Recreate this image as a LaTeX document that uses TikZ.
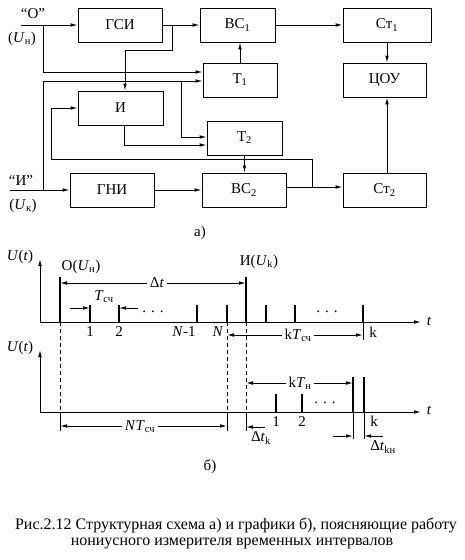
\documentclass[tikz,border=0pt]{standalone}
\usepackage{fontspec}
\setmainfont{Liberation Serif}
\usetikzlibrary{arrows.meta,calc}
\begin{document}
\begin{tikzpicture}[x=1pt,y=-1pt,
  every node/.style={font=\fontsize{15}{18}\selectfont, inner sep=0pt},
  blk/.style={draw, line width=0.9pt, inner sep=0pt, minimum height=34pt},
  ln/.style={line width=0.9pt},
  arr/.style={ln, -{Latex[length=7pt,width=3.6pt]}},
  dimarr/.style={ln, {Latex[length=7pt,width=3.6pt]}-{Latex[length=7pt,width=3.6pt]}},
  pulse/.style={line width=1.8pt},
  dsh/.style={line width=0.8pt, dash pattern=on 4pt off 3pt},
  lbl/.style={fill=white, inner xsep=3pt, inner ysep=1pt},
  captxt/.style={font=\fontsize{16}{19}\selectfont},
]
\fill[white] (0,0) rectangle (464,560);
\useasboundingbox (0,0) rectangle (464,560);

% ---------- block diagram ----------
\node[blk, minimum width=84pt] (gsi)  at (120,25)    {ГСИ};
\node[blk, minimum width=75pt] (vs1)  at (237.5,25)  {ВС\textsubscript{1}};
\node[blk, minimum width=88pt] (st1)  at (387,25)    {Ст\textsubscript{1}};
\node[blk, minimum width=74pt] (t1)   at (240,80)    {Т\textsubscript{1}};
\node[blk, minimum width=83pt] (tsou) at (384.5,80)  {ЦОУ};
\node[blk, minimum width=85pt] (ii)   at (120.5,108) {И};
\node[blk, minimum width=75pt] (t2)   at (244.5,138) {Т\textsubscript{2}};
\node[blk, minimum width=84pt] (gni)  at (112,190)   {ГНИ};
\node[blk, minimum width=84pt] (vs2)  at (244,190)   {ВС\textsubscript{2}};
\node[blk, minimum width=83pt] (st2)  at (384.5,190) {Ст\textsubscript{2}};

\node (lo)  at (33,14)  {“О”};
\node (luh) at (22,39)  {(\textit{U}\textsubscript{н})};
\node (li)  at (21,181) {“И”};
\node (luk) at (23,206) {(\textit{U}\textsubscript{к})};

\coordinate (inO) at (21,25);
\coordinate (jO)  at (43,25);
\coordinate (jG)  at (172,25);
\coordinate (inI) at (10,190);
\coordinate (jI)  at (43,190);
\coordinate (jT)  at (181,81);
\coordinate (jF)  at (312,187);
\coordinate (fb1) at (51,159);

\draw[arr] (inO) -- (gsi.west);
\draw[arr] (jO) |- ([yshift=8pt]t1.west);
\draw[arr] (gsi.east) -- (vs1.west);
\draw[arr] (jG) -- ++(0,25) -| ([xshift=4.5pt]ii.north);
\draw[arr] (t1.north) -- (t1.north |- vs1.south);
\draw[arr] (vs1.east) -- (st1.west);
\draw[arr] (st1.south) -- (st1.south |- tsou.north);
\draw[arr] (st1.south |- st2.north) -- (st1.south |- tsou.south);
\draw[arr] (inI) -- (gni.west);
\draw[arr] (jI) |- ([yshift=-1pt]t1.west);
\draw[arr] (jT) |- ([yshift=1pt]t2.west);
\draw[arr] ([xshift=3.5pt]ii.south) |- ([yshift=-7pt]t2.west);
\draw[arr] (t2.south) -- (t2.south |- vs2.north);
\draw[arr] (gni.east) -- (vs2.west);
\draw[arr] ([yshift=3pt]vs2.east) -- ([yshift=3pt]st2.west);
\draw[arr] (jF) |- (fb1) |- (ii.west);

\node (la) at (200,233) {а)};

% ---------- timing diagram, top ----------
\draw[arr] (40,322) -- (421,322);
\draw[arr] (40,322) -- (40,259);
\node (ut1) at (20,257) {\textit{U}(\textit{t})};
\node (tt1) at (429,321) {\textit{t}};

\draw[pulse] (60,277) -- (60,322);
\draw[pulse] (90,305) -- (90,322);
\draw[pulse] (119,305) -- (119,322);
\draw[pulse] (197,305) -- (197,322);
\draw[pulse] (227,305) -- (227,322);
\draw[pulse] (246,277) -- (246,322);
\draw[pulse] (266,305) -- (266,322);
\draw[pulse] (295,305) -- (295,322);
\draw[pulse] (363,305) -- (363,322);
\draw[ln] (363,322) -- (363,340);

\node (lou) at (81,267) {О(\textit{U}\textsubscript{н})};
\node (liu) at (259,262) {И(\textit{U}\textsubscript{k})};

\draw[dimarr] (60,283) -- (246,283);
\node[lbl] (ldt) at (157,283) {Δ\textit{t}};

\draw[arr] (70,308) -- (90,308);
\draw[arr] (138,308) -- (119,308);
\node (ltsc) at (104,297) {\textit{T}\textsubscript{сч}};

\node (dd1) at (153,312) {. . .};
\node (dd2) at (327,312) {. . .};

\node (p1) at (90,332) {1};
\node (p2) at (119,332) {2};
\node (pn1) at (184,332) {\textit{N}-1};
\node (pn) at (218,332) {\textit{N}};

\draw[dimarr] (227,335) -- (363,335);
\node[lbl] (lkts) at (298,335) {k\textit{T}\textsubscript{сч}};
\node (lk1) at (373,332) {k};

\draw[dsh] (60,322) -- (60,412);
\draw[dsh] (227,322) -- (227,412);
\draw[dsh] (246,322) -- (246,412);

% ---------- timing diagram, bottom ----------
\draw[arr] (40,412) -- (421,412);
\draw[arr] (40,412) -- (40,350);
\node (ut2) at (20,348) {\textit{U}(\textit{t})};
\node (tt2) at (429,410) {\textit{t}};

\draw[ln] (60,412) -- (60,431);
\draw[ln] (227,412) -- (227,431);
\draw[ln] (246,412) -- (246,431);

\draw[pulse] (276,394) -- (276,412);
\draw[pulse] (302,394) -- (302,412);
\draw[pulse] (353,377) -- (353,412);
\draw[pulse] (364,377) -- (364,412);
\draw[ln] (353,412) -- (353,439);
\draw[ln] (364,412) -- (364,439);

\node (dd3) at (325,403) {. . .};
\node (q1) at (276,422) {1};
\node (q2) at (302,422) {2};
\node (qk) at (374,421) {k};

\draw[dimarr] (246,383) -- (353,383);
\node[lbl] (lktn) at (300,383) {k\textit{T}\textsubscript{н}};

\draw[dimarr] (60,426) -- (227,426);
\node[lbl] (lnts) at (140,427) {\textit{N}\textit{T}\textsubscript{сч}};

\draw[arr] (265,427) -- (246,427);
\node (ldtk) at (261,438) {Δ\textit{t}\textsubscript{k}};

\draw[arr] (333,436) -- (353,436);
\draw[arr] (383,436) -- (364,436);
\node (ldtkn) at (383,447) {Δ\textit{t}\textsubscript{kн}};

\node (lb) at (210,467) {б)};

% ---------- caption ----------
\node[captxt] (cap1) at (236,525) {Рис.2.12 Структурная схема а) и графики б), поясняющие работу};
\node[captxt] (cap2) at (232,543) {нониусного измерителя временных интервалов};
\end{tikzpicture}
\end{document}
